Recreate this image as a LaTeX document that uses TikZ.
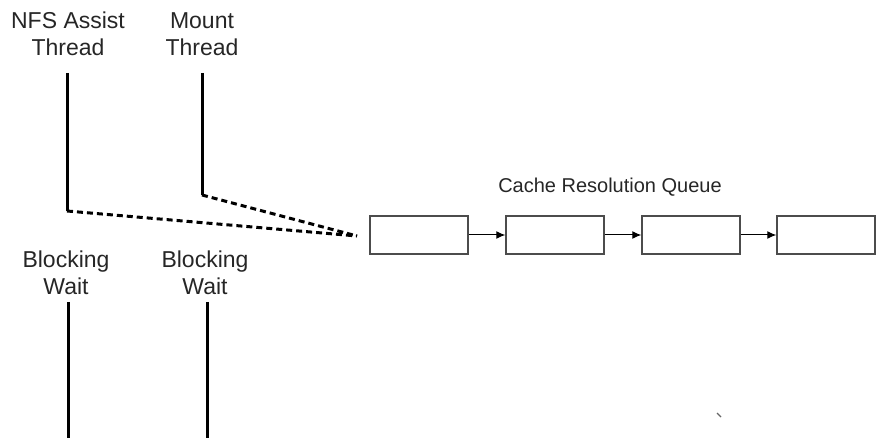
\documentclass[tikz,border=0pt]{standalone}
\usepackage{fontspec}
\setmainfont{Liberation Sans}
\usetikzlibrary{arrows.meta}
\begin{document}
\begin{tikzpicture}[x=1pt,y=-1pt,
  tlabel/.style={align=center, inner sep=0pt, text=black!85, font=\fontsize{23}{27.5}\selectfont},
  thread/.style={line width=3pt},
  handoff/.style={line width=3pt, dash pattern=on 6pt off 4pt},
  qbox/.style={draw=black!70, line width=1.5pt, minimum width=98pt, minimum height=38pt, inner sep=0pt},
  link/.style={line width=1pt, -{Latex[length=9pt,width=8pt]}}]
\useasboundingbox (0,0) rectangle (879,438);

% thread captions
\node[tlabel] (nfs) at (68,34) {NFS Assist\\Thread};
\node[tlabel] (mnt) at (202,34) {Mount\\Thread};
\node[tlabel] (bw1) at (66,273) {Blocking\\Wait};
\node[tlabel] (bw2) at (205,273) {Blocking\\Wait};

% queue
\node[tlabel, font=\fontsize{20}{24}\selectfont] (title) at (610,187) {Cache Resolution Queue};
\node[qbox] (q1) at (419,235) {};
\node[qbox] (q2) at (555,235) {};
\node[qbox] (q3) at (691,235) {};
\node[qbox] (q4) at (826,235) {};
\draw[link] (q1.east) -- (q2.west);
\draw[link] (q2.east) -- (q3.west);
\draw[link] (q3.east) -- (q4.west);

% thread timelines
\coordinate (nfsTop) at (67,73);
\coordinate (nfsBend) at (67,211);
\coordinate (mntTop) at (202,73);
\coordinate (mntBend) at (202,195);
\coordinate (enq) at (357,236);
\draw[thread] (nfsTop) -- (nfsBend);
\draw[thread] (mntTop) -- (mntBend);
\draw[handoff] (nfsBend) -- (enq);
\draw[handoff] (mntBend) -- (enq);

\coordinate (bw1Top) at (68,302);
\coordinate (bw1Bot) at (68,438);
\coordinate (bw2Top) at (207,302);
\coordinate (bw2Bot) at (207,438);
\draw[thread] (bw1Top) -- (bw1Bot);
\draw[thread] (bw2Top) -- (bw2Bot);

% small stray tick
\coordinate (tickA) at (717,413);
\coordinate (tickB) at (721,417);
\draw[black!60, line width=1.2pt] (tickA) -- (tickB);
\end{tikzpicture}
\end{document}
